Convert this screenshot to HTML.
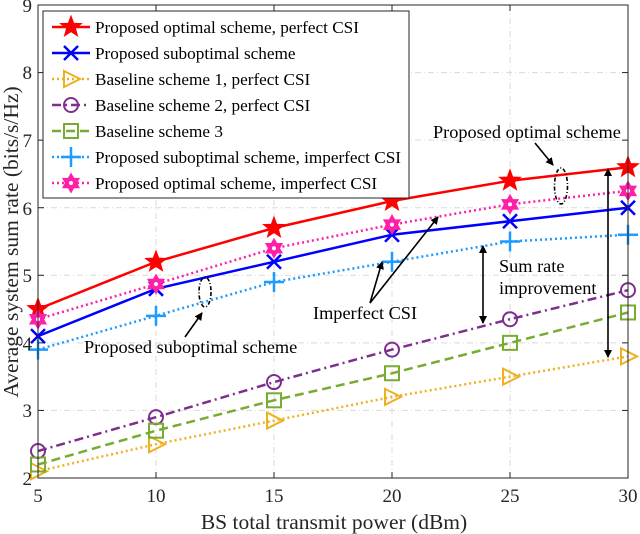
<!DOCTYPE html>
<html><head><meta charset="utf-8"><style>
html,body{margin:0;padding:0;background:#fff;}
svg{display:block;font-family:"Liberation Serif",serif;}
</style></head><body>
<svg id="s" width="640" height="534" viewBox="0 0 640 534" xmlns="http://www.w3.org/2000/svg">
<rect x="0" y="0" width="640" height="534" fill="#fff"/>
<g id="grid" stroke="#d9d9d9" stroke-width="1" stroke-dasharray="6,3,1,3"></g>
<g id="series"></g>
<rect x="38" y="5" width="590" height="473" fill="none" stroke="#262626" stroke-width="1"/>
<g id="ticks" stroke="#262626" stroke-width="1"></g>
<g font-size="19" fill="#262626" text-anchor="middle">
<text x="38" y="502">5</text><text x="156" y="502">10</text><text x="274" y="502">15</text>
<text x="392" y="502">20</text><text x="510" y="502">25</text><text x="628" y="502">30</text>
</g>
<g font-size="19" fill="#262626" text-anchor="end">
<text x="32" y="485">2</text><text x="32" y="417">3</text><text x="32" y="350">4</text>
<text x="32" y="282">5</text><text x="32" y="215">6</text><text x="32" y="147">7</text>
<text x="32" y="79">8</text><text x="32" y="12">9</text>
</g>
<text x="334" y="529" font-size="21.5" fill="#262626" text-anchor="middle">BS total transmit power (dBm)</text>
<text transform="translate(18,242) rotate(-90)" font-size="21.5" fill="#262626" text-anchor="middle">Average system sum rate (bits/s/Hz)</text>
<!-- legend -->
<rect x="43" y="11" width="366" height="187" fill="#fff" stroke="#262626" stroke-width="1"/>
<g id="leg"></g>
<g font-size="17.2" fill="#000">
<text x="95" y="33">Proposed optimal scheme, perfect CSI</text>
<text x="95" y="59">Proposed suboptimal scheme</text>
<text x="95" y="85">Baseline scheme 1, perfect CSI</text>
<text x="95" y="111">Baseline scheme 2, perfect CSI</text>
<text x="95" y="137">Baseline scheme 3</text>
<text x="95" y="163">Proposed suboptimal scheme, imperfect CSI</text>
<text x="95" y="189">Proposed optimal scheme, imperfect CSI</text>
</g>
<!-- annotations -->
<defs><marker id="ah" markerWidth="8" markerHeight="8" refX="7" refY="4" orient="auto" markerUnits="userSpaceOnUse"><path d="M0,0 L8,4 L0,8 z" fill="#000"/></marker>
<marker id="ah2" markerWidth="8" markerHeight="8" refX="1" refY="4" orient="auto" markerUnits="userSpaceOnUse"><path d="M8,0 L0,4 L8,8 z" fill="#000"/></marker></defs>
<g font-size="18.3" fill="#000">
<text x="433" y="138">Proposed optimal scheme</text>
<text x="313" y="319">Imperfect CSI</text>
<text x="499" y="272">Sum rate</text>
<text x="499" y="294">improvement</text>
<text x="84" y="353">Proposed suboptimal scheme</text>
</g>
<g stroke="#000" stroke-width="1.6" fill="none">
<ellipse cx="561" cy="186" rx="6.5" ry="18" stroke-dasharray="4,2,1,2"/>
<ellipse cx="205" cy="292" rx="6" ry="15" stroke-dasharray="4,2,1,2"/>
<line x1="535" y1="143" x2="553" y2="165" marker-end="url(#ah)"/>
<line x1="185" y1="337" x2="202" y2="313" marker-end="url(#ah)"/>
<line x1="370" y1="303" x2="382" y2="262" marker-end="url(#ah)"/>
<line x1="370" y1="303" x2="438" y2="217" marker-end="url(#ah)"/>
<line x1="483" y1="246" x2="483" y2="323" marker-end="url(#ah)" marker-start="url(#ah2)"/>
<line x1="608" y1="169" x2="608" y2="357" marker-end="url(#ah)" marker-start="url(#ah2)"/>
</g>
</svg>
<script>
const NS="http://www.w3.org/2000/svg";
const X=p=>38+(p-5)*23.6, Y=v=>478-(v-2)*67.57;
function el(par,tag,attrs){const e=document.createElementNS(NS,tag);for(const k in attrs)e.setAttribute(k,attrs[k]);par.appendChild(e);return e;}
const grid=document.getElementById('grid'),ticks=document.getElementById('ticks');
for(let p=10;p<=25;p+=5)el(grid,'line',{x1:X(p),x2:X(p),y1:5,y2:478});
for(let v=3;v<=8;v++)el(grid,'line',{x1:38,x2:628,y1:Y(v),y2:Y(v)});
for(let p=5;p<=30;p+=5){el(ticks,'line',{x1:X(p),x2:X(p),y1:478,y2:472});el(ticks,'line',{x1:X(p),x2:X(p),y1:5,y2:11});}
for(let v=2;v<=9;v++){el(ticks,'line',{x1:38,x2:44,y1:Y(v),y2:Y(v)});el(ticks,'line',{x1:628,x2:622,y1:Y(v),y2:Y(v)});}
function star(cx,cy,r,n,ri){let pts=[];for(let i=0;i<2*n;i++){const a=-Math.PI/2+i*Math.PI/n;const rr=i%2?ri:r;pts.push((cx+rr*Math.cos(a)).toFixed(1)+','+(cy+rr*Math.sin(a)).toFixed(1));}return pts.join(' ');}
function marker(g,t,x,y,c){
 if(t==='star')el(g,'polygon',{points:star(x,y,11,5,4.6),fill:c,stroke:c,'stroke-width':1});
 if(t==='hex'){el(g,'polygon',{points:star(x,y,9.5,6,5.5),fill:c,stroke:c,'stroke-width':1});el(g,'circle',{cx:x,cy:y,r:2,fill:'#fff'});}
 if(t==='x'){el(g,'line',{x1:x-7,y1:y-7,x2:x+7,y2:y+7,stroke:c,'stroke-width':2.5});el(g,'line',{x1:x-7,y1:y+7,x2:x+7,y2:y-7,stroke:c,'stroke-width':2.5});}
 if(t==='plus'){el(g,'line',{x1:x-10,y1:y,x2:x+10,y2:y,stroke:c,'stroke-width':2.5});el(g,'line',{x1:x,y1:y-10,x2:x,y2:y+10,stroke:c,'stroke-width':2.5});}
 if(t==='tri')el(g,'polygon',{points:`${x-7},${y-8} ${x+9},${y} ${x-7},${y+8}`,fill:'none',stroke:c,'stroke-width':2});
 if(t==='circ')el(g,'circle',{cx:x,cy:y,r:7,fill:'none',stroke:c,'stroke-width':2});
 if(t==='sq')el(g,'rect',{x:x-7,y:y-7,width:14,height:14,fill:'none',stroke:c,'stroke-width':2});
}
const S=[
 {c:'#ff0000',d:'',t:'star',v:[4.5,5.2,5.7,6.1,6.4,6.6]},
 {c:'#0000ff',d:'',t:'x',v:[4.1,4.8,5.2,5.6,5.8,6.0]},
 {c:'#edb120',d:'2,3',t:'tri',v:[2.1,2.5,2.85,3.2,3.5,3.8]},
 {c:'#7e2f8e',d:'9,4,2,4',t:'circ',v:[2.4,2.9,3.42,3.9,4.35,4.78]},
 {c:'#77ac30',d:'9,5',t:'sq',v:[2.2,2.7,3.15,3.55,4.0,4.45]},
 {c:'#1e9bff',d:'2,3',t:'plus',v:[3.9,4.4,4.9,5.2,5.5,5.6]},
 {c:'#ff1fa8',d:'2,3',t:'hex',v:[4.35,4.87,5.4,5.75,6.05,6.25]}
];
const sg=document.getElementById('series'),lg=document.getElementById('leg');
S.forEach((s,i)=>{
 const pts=s.v.map((v,j)=>X(5+5*j).toFixed(1)+','+Y(v).toFixed(1)).join(' ');
 const a={points:pts,fill:'none',stroke:s.c,'stroke-width':2.5};if(s.d)a['stroke-dasharray']=s.d;
 el(sg,'polyline',a);
 s.v.forEach((v,j)=>marker(sg,s.t,X(5+5*j),Y(v),s.c));
 const ly=27+i*26;const b={x1:52,x2:90,y1:ly,y2:ly,stroke:s.c,'stroke-width':2.5};if(s.d)b['stroke-dasharray']=s.d;
 el(lg,'line',b);marker(lg,s.t,71,ly,s.c);
});
</script>
</body></html>
